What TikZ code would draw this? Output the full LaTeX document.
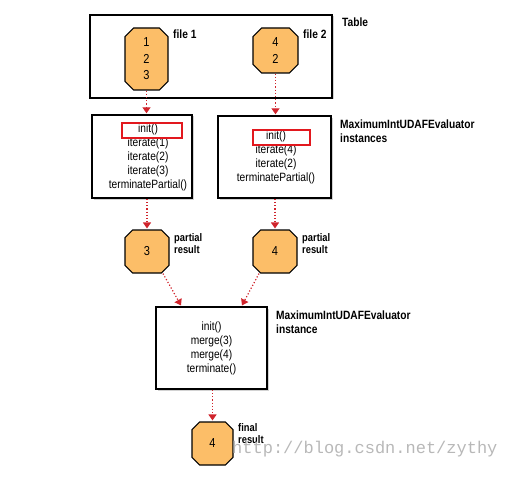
\documentclass[tikz,border=0pt]{standalone}
\usepackage{fontspec}
\setmainfont{Liberation Sans}
\newfontfamily\condfont[FakeStretch=0.85]{Liberation Sans}
\newfontfamily\wmfont{Liberation Mono}
\usetikzlibrary{shapes.misc, arrows.meta, shadows, calc, positioning}

\definecolor{octorange}{RGB}{252,190,104}
\definecolor{flowred}{RGB}{208,36,44}
\definecolor{markred}{RGB}{226,24,30}

\begin{document}
\begin{tikzpicture}[x=1pt, y=-1pt,
		box/.style={draw=black, line width=1.4pt, fill=white, inner sep=0pt,
			drop shadow={shadow xshift=1.5pt, shadow yshift=-1.5pt, fill=black!35}},
		oct/.style={chamfered rectangle, chamfered rectangle xsep=5.5pt, chamfered rectangle ysep=5.5pt,
			draw=black, line width=1.1pt, fill=octorange, inner sep=0pt, align=center,
			font=\condfont\fontsize{13}{16.5}\selectfont},
		meth/.style={inner sep=0pt, align=center, font=\condfont\fontsize{12}{14}\selectfont},
		redmark/.style={draw=markred, line width=2pt, inner sep=0pt, minimum height=15pt},
		lab/.style={anchor=west, inner sep=0pt, align=left, font=\condfont\bfseries\fontsize{12}{14}\selectfont},
		flow/.style={draw=flowred, line width=1.2pt, dotted, -{Triangle[length=6pt, width=8pt]}, shorten >=1pt}
		]
		
		\useasboundingbox (0,0) rectangle (508,476);
		
		% ==========================================
		% 1. TABLE WITH THE TWO FILES
		% ==========================================
		\node[box, minimum width=242pt, minimum height=83pt] (tbl) at (211,56.5) {};
		\node[oct, minimum width=43pt, minimum height=62pt] (f1) at (146.5,59) {1\\2\\3};
		\node[oct, minimum width=45pt, minimum height=45pt] (f2) at (275.5,50.5) {4\\2};
		\node[lab] (tbl-lab) at (342,22) {Table};
		\node[lab] (f1-lab) at (173,34) {file 1};
		\node[lab] (f2-lab) at (303,34) {file 2};
		
		% ==========================================
		% 2. ONE EVALUATOR PER FILE
		% ==========================================
		\node[box, minimum width=100pt, minimum height=83pt] (ev1) at (142,156.5) {};
		\node[meth] (ev1-txt) at (148,157.5) {init()\\iterate(1)\\iterate(2)\\iterate(3)\\terminatePartial()};
		\node[redmark, minimum width=60pt] (mark1) at (152,130.5) {};
		
		\node[box, minimum width=113pt, minimum height=82pt] (ev2) at (274.5,157) {};
		\node[meth] (ev2-txt) at (276,157.5) {init()\\iterate(4)\\iterate(2)\\terminatePartial()};
		\node[redmark, minimum width=57pt] (mark2) at (281.5,137.5) {};
		
		\node[lab] (ev-lab) at (340,131) {MaximumIntUDAFEvaluator\\instances};
		
		% ==========================================
		% 3. PARTIAL RESULTS
		% ==========================================
		\node[oct, minimum width=44pt, minimum height=43pt] (pr1) at (147,251.5) {3};
		\node[oct, minimum width=44pt, minimum height=43pt] (pr2) at (275,251.5) {4};
		\node[lab, font=\condfont\bfseries\fontsize{11}{12}\selectfont] (pr1-lab) at (174,244) {partial\\result};
		\node[lab, font=\condfont\bfseries\fontsize{11}{12}\selectfont] (pr2-lab) at (302,244) {partial\\result};
		
		% ==========================================
		% 4. MERGING EVALUATOR AND FINAL RESULT
		% ==========================================
		\node[box, meth, minimum width=111pt, minimum height=82pt] (ev3) at (211.5,348) {init()\\merge(3)\\merge(4)\\terminate()};
		\node[lab] (ev3-lab) at (276,322) {MaximumIntUDAFEvaluator\\instance};
		
		\node[oct, minimum width=41pt, minimum height=43pt] (fin) at (212.5,443.5) {4};
		\node[lab, font=\condfont\bfseries\fontsize{11}{12}\selectfont] (fin-lab) at (238,434) {final\\result};
		
		% ==========================================
		% 5. DATA FLOW
		% ==========================================
		\draw[flow] (f1.south) -- (f1.south |- ev1.north);
		\draw[flow] (f2.south) -- (f2.south |- ev2.north);
		\draw[flow] (ev1.south -| pr1.north) -- (pr1.north);
		\draw[flow] (ev2.south -| pr2.north) -- (pr2.north);
		\draw[flow] ([xshift=16pt]pr1.south) -- ([xshift=-30pt]ev3.north);
		\draw[flow] ([xshift=-16pt]pr2.south) -- ([xshift=30pt]ev3.north);
		\draw[flow] (ev3.south -| fin.north) -- (fin.north);
		
		% watermark
		\node[anchor=west, inner sep=0pt, text=black!28, font=\wmfont\fontsize{17}{17}\selectfont] (wm) at (232,449) {http://blog.csdn.net/zythy};
		
	\end{tikzpicture}
\end{document}
